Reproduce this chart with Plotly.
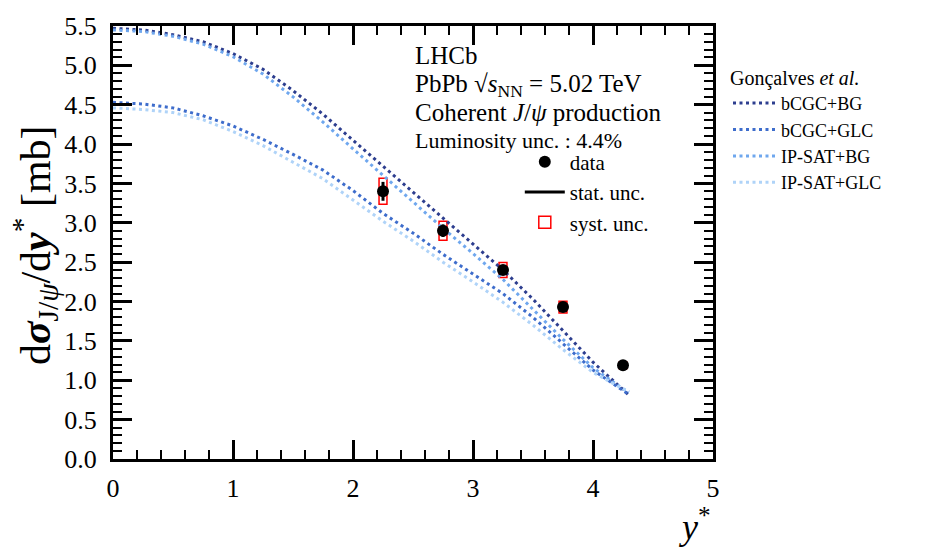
import plotly.graph_objects as go

# ---------------- data ----------------
ystar_model = [0.0, 0.25, 0.5, 0.75, 1.0, 1.25, 1.5, 1.75, 2.0, 2.25, 2.5, 2.75,
               3.0, 3.25, 3.5, 3.75, 4.0, 4.25, 4.3]
bcgc_bg = [5.47, 5.45, 5.39, 5.30, 5.15, 4.95, 4.68, 4.38, 4.05, 3.72, 3.39, 3.06,
           2.74, 2.40, 2.03, 1.63, 1.23, 0.88, 0.81]
bcgc_glc = [4.53, 4.51, 4.46, 4.36, 4.23, 4.06, 3.87, 3.67, 3.41, 3.12, 2.87, 2.60,
            2.35, 2.10, 1.80, 1.46, 1.13, 0.87, 0.82]
ipsat_bg = [5.45, 5.43, 5.37, 5.27, 5.11, 4.89, 4.60, 4.28, 3.94, 3.60, 3.26, 2.93,
            2.61, 2.28, 1.90, 1.52, 1.16, 0.89, 0.85]
ipsat_glc = [4.46, 4.44, 4.40, 4.31, 4.16, 3.98, 3.77, 3.56, 3.29, 3.02, 2.77, 2.50,
             2.25, 1.99, 1.70, 1.39, 1.10, 0.89, 0.86]

data_x = [2.25, 2.75, 3.25, 3.75, 4.25]
data_y = [3.40, 2.90, 2.40, 1.93, 1.19]
stat_err = [0.12, 0.08, 0.06, 0.04, 0.03]
syst_err = [0.165, 0.12, 0.095, 0.075, 0.04]

model_names = ["bCGC+BG", "bCGC+GLC", "IP-SAT+BG", "IP-SAT+GLC"]
model_values = [bcgc_bg, bcgc_glc, ipsat_bg, ipsat_glc]
model_colors = ["#2d3e8f", "#3e6dcc", "#6fa7ee", "#afd3f8"]

x_ticks = [0, 1, 2, 3, 4, 5]
y_ticks = [0.0, 0.5, 1.0, 1.5, 2.0, 2.5, 3.0, 3.5, 4.0, 4.5, 5.0, 5.5]

FONT = "Liberation Serif"
box_width = 0.066

fig = go.Figure()

# model curves (legend 2)
for name, vals, col in zip(model_names, model_values, model_colors):
    fig.add_trace(go.Scatter(
        x=ystar_model, y=vals, mode="lines", name=name,
        line=dict(color=col, width=3, dash="3px,3.5px"),
        legend="legend2",
    ))

# systematic boxes as open bars
fig.add_trace(go.Bar(
    x=data_x, y=[2 * s for s in syst_err],
    base=[y - s for y, s in zip(data_y, syst_err)],
    width=box_width, marker=dict(color="rgba(0,0,0,0)", line=dict(color="red", width=1.5)),
    name="syst. unc.", legend="legend", legendrank=3, hoverinfo="skip",
))

# data points with stat error
fig.add_trace(go.Scatter(
    x=data_x, y=data_y, mode="markers", name="data",
    marker=dict(color="black", size=12),
    error_y=dict(type="data", array=stat_err, color="black", thickness=3, width=0),
    legend="legend", legendrank=1,
))
# stat legend entry
fig.add_trace(go.Scatter(
    x=[None], y=[None], mode="lines", name="stat. unc.",
    line=dict(color="black", width=3), legend="legend", legendrank=2,
))

axis_common = dict(
    showline=True, linecolor="black", linewidth=3, mirror="ticks",
    ticks="inside", ticklen=19, tickwidth=2.5, tickcolor="black",
    showgrid=False, zeroline=False,
    tickfont=dict(family=FONT, size=26, color="black"),
)
fig.update_xaxes(
    range=[0, 5], tickvals=x_ticks, ticktext=[str(v) for v in x_ticks],
    minor=dict(ticks="inside", ticklen=9, tickwidth=2, tickcolor="black", dtick=0.2, showgrid=False),
    ticklabelstandoff=4,
    **axis_common,
)
fig.update_yaxes(
    range=[0, 5.5], tickvals=y_ticks, ticktext=[f"{v:.1f}" for v in y_ticks],
    minor=dict(ticks="inside", ticklen=9, tickwidth=2, tickcolor="black", dtick=0.1, showgrid=False),
    ticklabelstandoff=8,
    **axis_common,
)

fig.update_layout(
    width=925, height=549,
    margin=dict(l=113, r=212, t=14, b=90),
    paper_bgcolor="white", plot_bgcolor="white",
    font=dict(family=FONT, color="black"),
    barmode="overlay",
    legend=dict(
        x=0.678, y=0.733, xanchor="left", yanchor="top",
        bgcolor="rgba(0,0,0,0)", font=dict(family=FONT, size=21),
        traceorder="normal", itemwidth=40, tracegroupgap=0,
    ),
    legend2=dict(
        x=1.025, y=0.924, xanchor="left", yanchor="top",
        bgcolor="rgba(0,0,0,0)", font=dict(family=FONT, size=18),
        title=dict(text="Gonçalves <i>et al.</i>", font=dict(family=FONT, size=20)),
        traceorder="normal", itemwidth=43,
    ),
    showlegend=True,
)

# text block
texts = [
    ("LHCb", 0.932, 25),
    ("PbPb √<i>s</i><sub>NN</sub> = 5.02 TeV", 0.862, 25),
    ("Coherent <i>J</i>/<i>ψ</i> production", 0.80, 25),
    ("Luminosity unc. : 4.4%", 0.735, 22),
]
for t, yy, sz in texts:
    fig.add_annotation(
        x=0.5, y=yy, xref="paper", yref="paper", text=t, showarrow=False,
        xanchor="left", yanchor="middle", font=dict(family=FONT, size=sz, color="black"),
    )

# axis titles
fig.add_annotation(
    x=-0.13, y=0.494, xref="paper", yref="paper", textangle=-90, showarrow=False,
    text="d<b><i>σ</i></b><sub>J/<i>ψ</i></sub>/d<b><i>y</i></b><sup>*</sup> [mb]",
    font=dict(family=FONT, size=42, color="black"), xanchor="center", yanchor="middle",
)
fig.add_annotation(
    x=1.0, y=-0.152, xref="paper", yref="paper", showarrow=False,
    text="<i>y</i><sup>*</sup>", xanchor="right", yanchor="middle",
    font=dict(family=FONT, size=36, color="black"),
)

fig.write_html("out.html")
